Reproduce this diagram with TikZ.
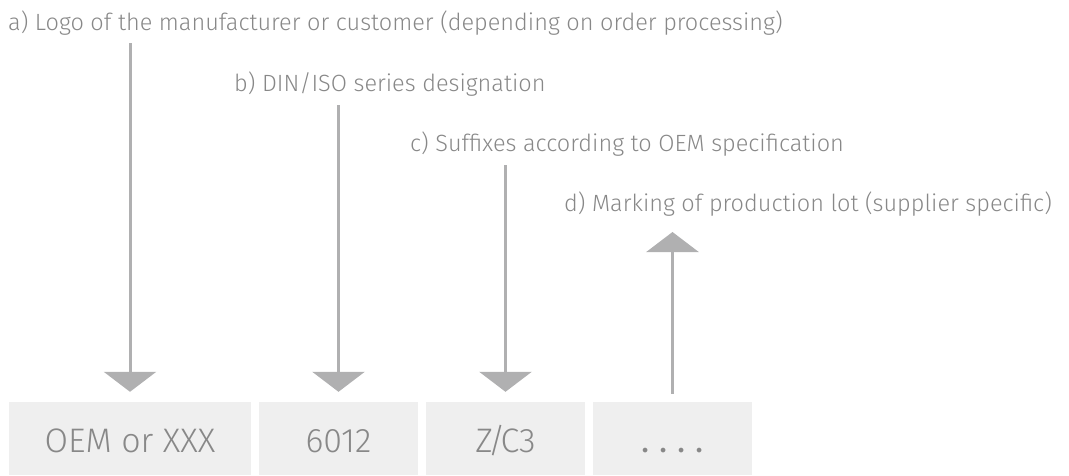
\documentclass[tikz,border=0pt]{standalone}
\usepackage{fontspec}
\setmainfont{Fira Sans}[UprightFont=* Light]
\newfontfamily\dotfont{Fira Sans}[Contextuals=NoAlternate]
\usetikzlibrary{arrows.meta}
\definecolor{txtgray}{HTML}{888888}
\definecolor{arrgray}{HTML}{B0B0B1}
\definecolor{boxgray}{HTML}{EFEFEF}
\begin{document}
\begin{tikzpicture}[x=1pt,y=-1pt,
  field/.style={fill=boxgray,draw=none,minimum height=73pt,inner sep=0pt,
    text height=28pt,text depth=0pt,
    text=txtgray,font=\fontsize{34}{38}\selectfont},
  callout/.style={anchor=base west,inner sep=0pt,text=txtgray,
    font=\fontsize{23.5}{26}\selectfont},
  pointer/.style={draw=arrgray,line width=3pt,
    -{Triangle[width=52pt,length=20pt]},arrgray}]
\useasboundingbox (0,0) rectangle (1069,475);

% marking fields
\node[field,minimum width=242pt] (b1) at (130,438.5) {OEM or XXX};
\node[field,minimum width=159pt] (b2) at (338.5,438.5) {6012};
\node[field,minimum width=159pt] (b3) at (505.5,438.5) {Z\kern-5pt/\kern-5pt C3};
\node[field,minimum width=159pt] (b4) at (672.5,438.5)
  {\dotfont .\kern10pt.\kern10pt.\kern10pt.};

% callout texts
\node[callout] (la) at (8,30.5) {a) Logo of the manufacturer or customer (depending on order processing)};
\node[callout] (lb) at (234,91) {b) DIN/ISO series designation};
\node[callout] (lc) at (410,151.5) {c) Suffixes according to OEM specification};
\node[callout] (ld) at (564,211.5) {d) Marking of production lot (supplier specific)};

% free ends of the pointers
\coordinate (pa) at (130,43);
\coordinate (pb) at (338.5,105);
\coordinate (pc) at (505.5,165);
\coordinate (pd) at (672.5,232);

\draw[pointer] (pa) -- ([yshift=10pt]b1.north);
\draw[pointer] (pb) -- ([yshift=10pt]b2.north);
\draw[pointer] (pc) -- ([yshift=10pt]b3.north);
\draw[pointer] ([yshift=8pt]b4.north) -- (pd);
\end{tikzpicture}
\end{document}
